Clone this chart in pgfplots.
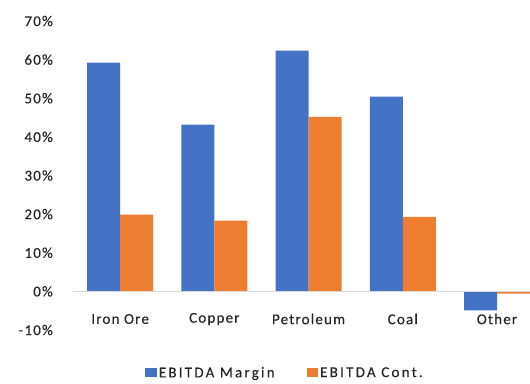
\documentclass[border=0pt]{standalone}
\usepackage{pgfplots}
\pgfplotsset{compat=1.18}
\usepackage{fontspec}
\setmainfont[LetterSpace=8, FakeBold=0.3]{Carlito}
\definecolor{barblue}{HTML}{4472C4}
\definecolor{barorange}{HTML}{ED7D31}
\definecolor{zeroline}{HTML}{D9D9D9}
\definecolor{labeltext}{HTML}{262626}

\pgfplotstableread{
idx margin cont
0   59.2   19.9
1   43.2   18.3
2   62.3   45.2
3   50.4   19.3
4   -4.9   -0.6
}\segments

\begin{document}
\begin{tikzpicture}
\path[use as bounding box] (0pt,0pt) rectangle (530pt,383pt);
\begin{axis}[
  at={(73pt,53pt)}, anchor=south west,
  scale only axis, width=457pt, height=309pt,
  xmin=-0.5, xmax=4.35, ymin=-10, ymax=70,
  ybar, bar width=0.35,
  axis line style={draw=none},
  major tick length=0pt,
  xtick=data,
  xticklabels={Iron Ore, Copper, Petroleum, Coal, Other},
  ytick={-10,0,...,70},
  /pgf/number format/assume math mode=true,
  yticklabel={\pgfmathprintnumber{\tick}\%},
  tick label style={font=\fontsize{15}{17}\selectfont, text=labeltext},
  yticklabel style={anchor=east, inner sep=0pt, xshift=-20pt},
  xticklabel style={anchor=center, inner sep=0pt, yshift=11pt},
  legend columns=2,
  legend style={at={(0.464,-0.139)}, anchor=center, draw=none, fill=none,
    font=\fontsize{15}{17}\selectfont\addfontfeatures{LetterSpace=15}, text=labeltext,
    /tikz/every even column/.append style={column sep=30pt}},
  legend image code/.code={\fill[#1,draw=none] (0pt,-4.5pt) rectangle (11.5pt,4.5pt);},
]
\addplot[fill=barblue, draw=none, bar shift=-0.175] table[x=idx, y=margin] {\segments};
\addplot[fill=barorange, draw=none, bar shift=0.175] table[x=idx, y=cont] {\segments};
\draw[zeroline, line width=0.8pt] (axis cs:-0.5,0) -- (axis cs:4.35,0);
\legend{EBITDA Margin, EBITDA Cont.}
\end{axis}
\end{tikzpicture}
\end{document}
